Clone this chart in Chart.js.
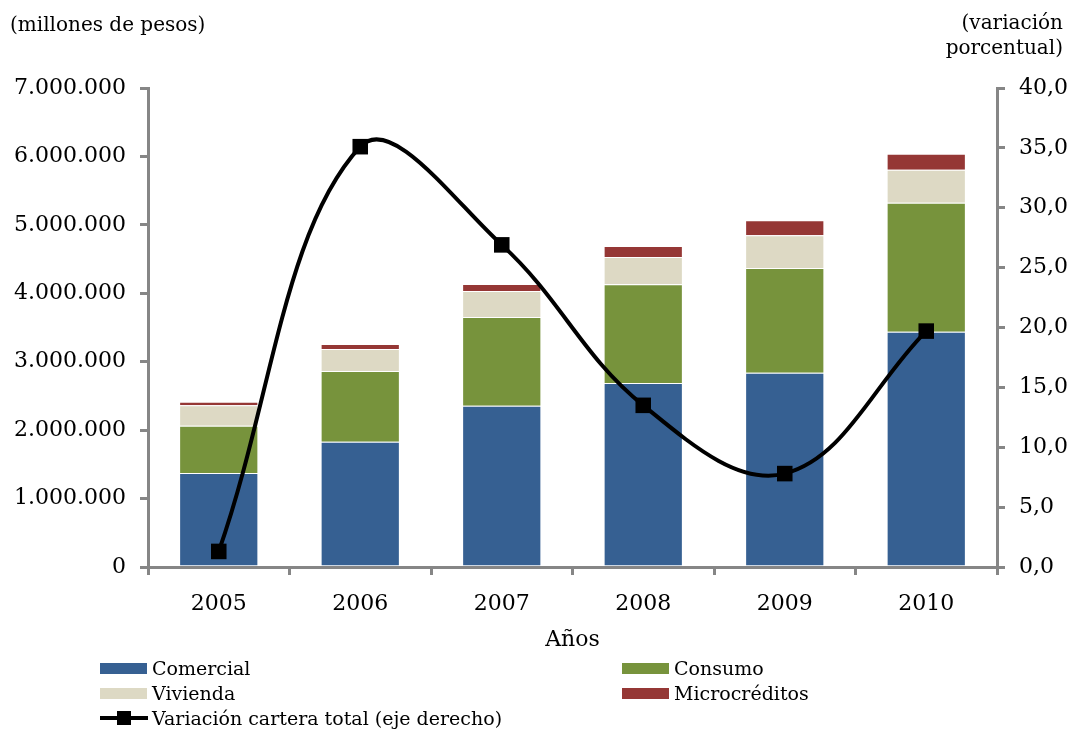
<!DOCTYPE html>
<html>
<head>
<meta charset="utf-8">
<script src="https://cdn.jsdelivr.net/npm/chart.js@4/dist/chart.umd.min.js"></script>
<style>
  html, body { margin: 0; padding: 0; background: #fff; }
  #wrap { position: relative; width: 1072px; height: 731px; font-family: 'DejaVu Serif', serif; color: #000; }
  #chart { position: absolute; left: 0; top: 0; }
  .note { position: absolute; font-size: 20px; line-height: 25px; }
  .leg { position: absolute; font-size: 19px; line-height: 20px; display: flex; align-items: center; }
  .sw { width: 47px; height: 11px; margin-right: 5px; }
  .lineSym { position: relative; width: 48px; height: 20px; margin-right: 4px; }
  .lineSym::before { content: ''; position: absolute; left: 0; right: 0; top: 8px; height: 4px; background: #000; }
  .lineSym::after { content: ''; position: absolute; left: 17px; top: 3px; width: 14px; height: 14px; background: #000; }
</style>
</head>
<body>
<div id="wrap">
  <canvas id="chart" width="1072" height="731"></canvas>
  <div class="note" style="left:10px; top:12px;">(millones de pesos)</div>
  <div class="note" style="right:9px; top:10px; text-align:right;">(variación<br>porcentual)</div>
  <div id="legend"></div>
</div>
<script>
// ── Data ──────────────────────────────────────────────────────────
const YEARS       = ['2005', '2006', '2007', '2008', '2009', '2010'];
const COMERCIAL   = [1374000, 1831000, 2357000, 2689000, 2840000, 3439000];
const CONSUMO     = [ 691000, 1033000, 1296000, 1442000, 1529000, 1885000];
const VIVIENDA    = [ 298000,  322000,  380000,  399000,  478000,  482000];
const MICRO       = [  53000,   73000,  103000,  161000,  219000,  234000];
const VARIACION   = [1.3, 35.1, 26.9, 13.5, 7.8, 19.7];

const LEFT_TICKS  = [0, 1000000, 2000000, 3000000, 4000000, 5000000, 6000000, 7000000];
const RIGHT_TICKS = [0, 5, 10, 15, 20, 25, 30, 35, 40];

const COLORS = {
  comercial: '#366092',
  consumo:   '#77933C',
  vivienda:  '#DDD9C4',
  micro:     '#953735',
  linea:     '#000000',
  axis:      '#868686',
};

const FONT = "'DejaVu Serif', serif";

const fmtMiles = v => v === 0 ? '0' : String(v).replace(/\B(?=(\d{3})+(?!\d))/g, '.');
const fmtPct   = v => v.toFixed(1).replace('.', ',');

function barSet(label, data, color) {
  return {
    type: 'bar', label, data,
    backgroundColor: color,
    borderColor: 'rgba(255,255,255,0.35)',
    borderWidth: 1,
    yAxisID: 'y', stack: 'cartera', order: 1,
    barPercentage: 0.56, categoryPercentage: 1,
  };
}

// ── Chart ─────────────────────────────────────────────────────────
new Chart(document.getElementById('chart'), {
  data: {
    labels: YEARS,
    datasets: [
      {
        type: 'line', label: 'Variación cartera total (eje derecho)',
        data: VARIACION, yAxisID: 'y1', order: 0,
        borderColor: COLORS.linea, borderWidth: 4,
        tension: 0.38,
        pointStyle: 'rect', pointRadius: 11,
        pointBackgroundColor: COLORS.linea, pointBorderColor: COLORS.linea, pointBorderWidth: 0,
      },
      barSet('Comercial',     COMERCIAL, COLORS.comercial),
      barSet('Consumo',       CONSUMO,   COLORS.consumo),
      barSet('Vivienda',      VIVIENDA,  COLORS.vivienda),
      barSet('Microcréditos', MICRO,     COLORS.micro),
    ]
  },
  options: {
    responsive: false,
    animation: false,
    layout: { padding: { top: 88, bottom: 74, left: 0, right: 0 } },
    plugins: { legend: { display: false }, tooltip: { enabled: false } },
    scales: {
      x: {
        stacked: true,
        offset: true,
        grid:   { offset: true, drawOnChartArea: false, color: COLORS.axis, lineWidth: 3, tickLength: 8 },
        border: { color: COLORS.axis, width: 3 },
        ticks:  { color: '#000', font: { family: FONT, size: 22 }, padding: 16 },
        title:  { display: true, text: 'Años', color: '#000', font: { family: FONT, size: 22 }, padding: { top: 0 } },
        afterFit: s => { s.height = 90; },
      },
      y: {
        stacked: true, position: 'left',
        min: 0, max: 7000000,
        afterBuildTicks: s => { s.ticks = LEFT_TICKS.map(v => ({ value: v })); },
        grid:   { drawOnChartArea: false, color: COLORS.axis, lineWidth: 3, tickLength: 8 },
        border: { color: COLORS.axis, width: 3 },
        ticks:  { color: '#000', font: { family: FONT, size: 22 }, padding: 14, callback: v => fmtMiles(v) },
        afterFit: s => { s.width = 148; },
      },
      y1: {
        position: 'right',
        min: 0, max: 40,
        afterBuildTicks: s => { s.ticks = RIGHT_TICKS.map(v => ({ value: v })); },
        grid:   { drawOnChartArea: false, color: COLORS.axis, lineWidth: 3, tickLength: 8 },
        border: { color: COLORS.axis, width: 3 },
        ticks:  { color: '#000', font: { family: FONT, size: 22 }, padding: 14, callback: v => fmtPct(v) },
        afterFit: s => { s.width = 75; },
      },
    }
  }
});

// ── Legend (HTML, laid out like the original) ────────────────────
const LEGEND = [
  { label: 'Comercial',     color: COLORS.comercial, x: 100, y: 658 },
  { label: 'Consumo',       color: COLORS.consumo,   x: 622, y: 658 },
  { label: 'Vivienda',      color: COLORS.vivienda,  x: 100, y: 683 },
  { label: 'Microcréditos', color: COLORS.micro,     x: 622, y: 683 },
  { label: 'Variación cartera total (eje derecho)', line: true, x: 100, y: 708 },
];
const legendEl = document.getElementById('legend');
LEGEND.forEach(item => {
  const d = document.createElement('div');
  d.className = 'leg';
  d.style.left = item.x + 'px';
  d.style.top  = item.y + 'px';
  const sym = document.createElement('span');
  if (item.line) sym.className = 'lineSym';
  else { sym.className = 'sw'; sym.style.background = item.color; }
  d.appendChild(sym);
  d.appendChild(document.createTextNode(item.label));
  legendEl.appendChild(d);
});
</script>
</body>
</html>
